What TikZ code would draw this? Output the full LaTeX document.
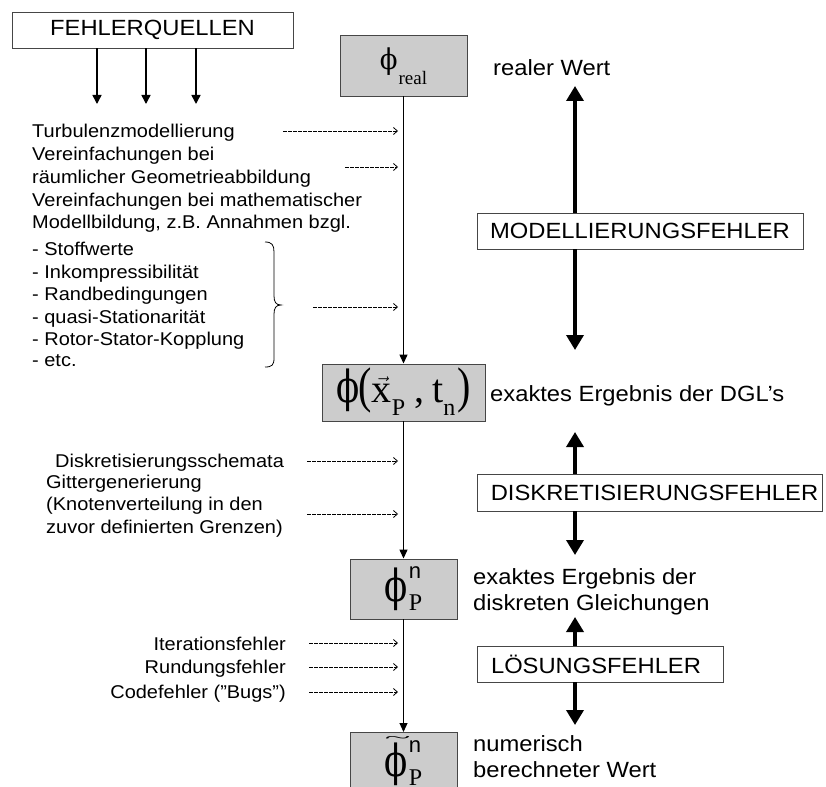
\documentclass[tikz,border=0pt]{standalone}
\usepackage{fontspec}
\setmainfont{Liberation Sans}[FakeStretch=1.08]
\newfontfamily\serif{Liberation Serif}
\newfontfamily\phifont{DejaVu Serif}
\newfontfamily\plainsans{Liberation Sans}
\usetikzlibrary{arrows.meta}
\definecolor{boxgray}{RGB}{204,204,204}
\definecolor{edgegray}{RGB}{70,70,70}
\newcommand{\bigphi}[2]{\scalebox{1}[#2]{\phifont\fontsize{#1}{#1}\selectfont ϕ}}
\newcommand{\tallparen}[1]{\scalebox{1}[1.25]{\fontsize{40}{40}\selectfont #1}}
\begin{document}
\begin{tikzpicture}[x=1pt,y=-1pt,
  valbox/.style={draw=edgegray, fill=boxgray, line width=0.9pt, inner sep=0pt, font=\serif},
  catbox/.style={draw=edgegray, fill=white, line width=0.9pt, inner sep=0pt, font=\fontsize{22}{22}\selectfont},
  bodytext/.style={inner sep=0pt, anchor=base west, font=\fontsize{18.5}{22}\selectfont},
  bodyright/.style={inner sep=0pt, anchor=base east, font=\fontsize{18.5}{22}\selectfont},
  lbl/.style={inner sep=0pt, anchor=base west, font=\fontsize{22}{26}\selectfont},
  flow/.style={line width=1.2pt, -{Triangle[length=9pt,width=8pt]}},
  bigarrow/.style={line width=3.5pt, -{Triangle[length=15pt,width=17pt]}},
  src/.style={line width=1.5pt, -{Triangle[length=9pt,width=9pt]}},
  feed/.style={line width=0.8pt, dash pattern=on 3.5pt off 1.5pt, -{Straight Barb[length=4pt,width=7pt]}},
  bracestyle/.style={line width=0.8pt},
]
\clip (0,0) rectangle (826,786);
\fill[white] (0,0) rectangle (826,786);

% sources box
\node[catbox, minimum width=281, minimum height=36] (fq) at (152.5,30) {FEHLERQUELLEN};
\coordinate (s1) at (97,104);
\coordinate (s2) at (146,104);
\coordinate (s3) at (196,104);
\draw[src] (s1 |- fq.south) -- (s1);
\draw[src] (s2 |- fq.south) -- (s2);
\draw[src] (s3 |- fq.south) -- (s3);

% value boxes
\node[valbox, minimum width=127, minimum height=61, text height=20pt, text depth=11pt] (real) at (403.5,65.5)
  {\bigphi{26}{1.1}\kern1pt\raisebox{-15pt}{\fontsize{19}{19}\selectfont real}};
\node[valbox, minimum width=163, minimum height=57, text height=35pt, text depth=16pt] (exact) at (403.5,392.5)
  {\bigphi{34}{1.3}\kern-1pt\tallparen{(}\fontsize{40}{40}\selectfont$\vec{\mbox{x}}$\raisebox{-13pt}{\fontsize{24}{24}\selectfont P}\kern9pt,\kern8pt t\raisebox{-13pt}{\fontsize{24}{24}\selectfont n}\kern2pt\tallparen{)}};
\node[valbox, minimum width=107, minimum height=60, text height=30pt, text depth=6pt] (disc) at (403.5,589)
  {\bigphi{34}{1.3}\kern1pt\rlap{\raisebox{23pt}{\plainsans\fontsize{22}{22}\selectfont n}}\raisebox{-9pt}{\fontsize{24}{24}\selectfont P}};
\node[valbox, minimum width=107, minimum height=66, text height=30pt, text depth=8pt, anchor=north] (num) at (403.5,732)
  {\rlap{\raisebox{34pt}{\resizebox{26pt}{6pt}{\char"7E}}}\bigphi{34}{1.3}\kern1pt\rlap{\raisebox{24pt}{\plainsans\fontsize{22}{22}\selectfont n}}\raisebox{-9pt}{\fontsize{24}{24}\selectfont P}};

\draw[flow] (real.south) -- (exact.north);
\draw[flow] (exact.south) -- (disc.north);
\draw[flow] (disc.south) -- (num.north);

% right labels
\node[lbl] (r1) at (493,76) {realer Wert};
\node[lbl] (r2) at (490,401) {exaktes Ergebnis der DGL’s};
\node[lbl] (r3) at (473,584) {exaktes Ergebnis der};
\node[lbl] (r4) at (473,610) {diskreten Gleichungen};
\node[lbl] (r5) at (473,751) {numerisch};
\node[lbl] (r6) at (473,777) {berechneter Wert};

% error category boxes and arrows
\node[catbox, minimum width=326, minimum height=36] (mf) at (640,231) {MODELLIERUNGSFEHLER};
\node[catbox, minimum width=345, minimum height=37] (df) at (649.5,492.5) {\hspace*{10pt}DISKRETISIERUNGSFEHLER};
\node[catbox, minimum width=246, minimum height=36] (lf) at (600,664) {LÖSUNGSFEHLER\hspace*{8pt}};
\coordinate (m1) at (575,86);
\coordinate (m2) at (575,350);
\coordinate (d1) at (575,432);
\coordinate (d2) at (575,555);
\coordinate (l1) at (575,617);
\coordinate (l2) at (575,725);
\draw[bigarrow] (mf.north -| m1) -- (m1);
\draw[bigarrow] (mf.south -| m2) -- (m2);
\draw[bigarrow] (df.north -| d1) -- (d1);
\draw[bigarrow] (df.south -| d2) -- (d2);
\draw[bigarrow] (lf.north -| l1) -- (l1);
\draw[bigarrow] (lf.south -| l2) -- (l2);

% left texts: modelling
\node[bodytext] (t1) at (32,138) {Turbulenzmodellierung};
\node[bodytext] (t2) at (32,161) {Vereinfachungen bei};
\node[bodytext] (t3) at (32,184) {räumlicher Geometrieabbildung};
\node[bodytext] (t4) at (32,207) {Vereinfachungen bei mathematischer};
\node[bodytext] (t5) at (32,229) {Modellbildung, z.B. Annahmen bzgl.};
\node[bodytext] (t6) at (32,255) {- Stoffwerte};
\node[bodytext] (t7) at (32,278) {- Inkompressibilität};
\node[bodytext] (t8) at (32,300) {- Randbedingungen};
\node[bodytext] (t9) at (32,323) {- quasi-Stationarität};
\node[bodytext] (t10) at (32,345) {- Rotor-Stator-Kopplung};
\node[bodytext] (t11) at (32,366) {- etc.};

% brace
\draw[bracestyle] (265,242) .. controls (272,242) and (274,245) .. (274,252) -- (274,296)
  .. controls (274,302) and (276,305) .. (281,305)
  .. controls (276,305) and (274,308) .. (274,314) -- (274,358)
  .. controls (274,365) and (272,367) .. (265,367);

% left texts: discretisation
\node[bodytext] (k1) at (55,467) {Diskretisierungsschemata};
\node[bodytext] (k2) at (46,488) {Gittergenerierung};
\node[bodytext] (k3) at (46,510) {(Knotenverteilung in den};
\node[bodytext] (k4) at (46,533) {zuvor definierten Grenzen)};

% left texts: solution
\node[bodyright] (i1) at (286,650) {Iterationsfehler};
\node[bodyright] (i2) at (286,673) {Rundungsfehler};
\node[bodyright] (i3) at (286,698) {Codefehler (”Bugs”)};

% dashed feeds
\coordinate (f1s) at (283,131); \coordinate (f1e) at (398,131);
\coordinate (f2s) at (345,167); \coordinate (f2e) at (398,167);
\coordinate (f3s) at (313,307); \coordinate (f3e) at (398,307);
\coordinate (f4s) at (307,461); \coordinate (f4e) at (398,461);
\coordinate (f5s) at (307,514); \coordinate (f5e) at (398,514);
\coordinate (f6s) at (309,643); \coordinate (f6e) at (398,643);
\coordinate (f7s) at (309,667); \coordinate (f7e) at (398,667);
\coordinate (f8s) at (309,692); \coordinate (f8e) at (398,692);
\draw[feed] (f1s) -- (f1e);
\draw[feed] (f2s) -- (f2e);
\draw[feed] (f3s) -- (f3e);
\draw[feed] (f4s) -- (f4e);
\draw[feed] (f5s) -- (f5e);
\draw[feed] (f6s) -- (f6e);
\draw[feed] (f7s) -- (f7e);
\draw[feed] (f8s) -- (f8e);
\end{tikzpicture}
\end{document}
